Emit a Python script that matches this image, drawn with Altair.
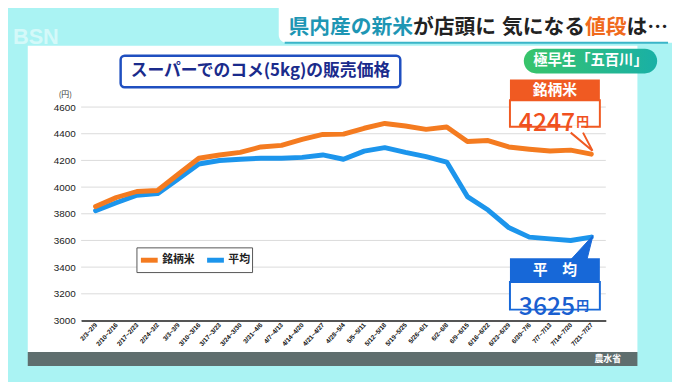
import altair as alt
import pandas as pd

# ---------------- data ----------------
weeks = ["2/3~2/9", "2/10~2/16", "2/17~2/23", "2/24~3/2", "3/3~3/9", "3/10~3/16",
         "3/17~3/23", "3/24~3/30", "3/31~4/6", "4/7~4/13", "4/14~4/20", "4/21~4/27",
         "4/28~5/4", "5/5~5/11", "5/12~5/18", "5/19~5/25", "5/26~6/1", "6/2~6/8",
         "6/9~6/15", "6/16~6/22", "6/23~6/29", "6/30~7/6", "7/7~7/13", "7/14~7/20",
         "7/21~7/27"]
brand_rice = [3854, 3922, 3967, 3975, 4096, 4216, 4241, 4260, 4301, 4313, 4357, 4395,
              4397, 4441, 4477, 4458, 4433, 4450, 4342, 4349, 4301, 4284, 4270, 4277, 4247]
average = [3823, 3883, 3939, 3951, 4060, 4173, 4199, 4209, 4216, 4216, 4223, 4241,
           4209, 4270, 4296, 4260, 4228, 4188, 3929, 3828, 3697, 3625, 3612, 3600, 3625]
series_names = ["銘柄米", "平均"]
y_ticks = [3000, 3200, 3400, 3600, 3800, 4000, 4200, 4400, 4600]

rows = []
for i, w in enumerate(weeks):
    rows.append({"week": w, "series": series_names[1], "price": average[i], "o": i})
for i, w in enumerate(weeks):
    rows.append({"week": w, "series": series_names[0], "price": brand_rice[i], "o": i})
df = pd.DataFrame(rows)
grid_df = pd.DataFrame({"price": y_ticks})

# ---------------- layout ----------------
W, H = 531, 216
OX, OY = 82, 106          # page position of plot origin
def px(x): return x - OX
def py(y): return y - OY

JP = "Noto Sans CJK JP"
LAT = "Liberation Sans"
ORANGE = "#f47b20"
BLUE = "#1c95ec"
one = pd.DataFrame({"k": [0]})

def rect(x1, y1, x2, y2, **kw):
    return alt.Chart(one).mark_rect(**kw).encode(
        x=alt.value(px(x1)), x2=alt.value(px(x2)),
        y=alt.value(py(y1)), y2=alt.value(py(y2)))

def text(s, x, y, **kw):
    return alt.Chart(one).mark_text(text=s, **kw).encode(
        x=alt.value(px(x)), y=alt.value(py(y)))

def shape(path, cx, cy, size, **kw):
    return alt.Chart(one).mark_point(shape=path, size=size, **kw).encode(
        x=alt.value(px(cx)), y=alt.value(py(cy)))

yscale = alt.Scale(domain=[3000, 4600], nice=False, zero=False)
yaxis = alt.Axis(title=None, values=y_ticks, format="d", labelFontSize=10,
                 labelColor="#222", labelFont=LAT, ticks=False, domain=False,
                 grid=False, labelPadding=6, zindex=1)

# background panels
panel = rect(28, 44, 645, 354, fill="white")
footer = rect(28, 354, 645, 368, fill="#5f6e6e")
footer_txt = text("農水省", 615, 361.5, font=JP, fontSize=9, color="white",
                  align="center", baseline="middle", fontWeight="bold")

banner = rect(282, -20, 700, 41, fill="white", cornerRadius=8)
banner_line = alt.Chart(one).mark_rule(color="#3ab5c8", strokeWidth=2).encode(
    x=alt.value(px(288)), x2=alt.value(px(676)), y=alt.value(py(41)))
logo = text("BSN", 13, 35, font=LAT, fontSize=22, fontWeight="bold", color="white",
            opacity=0.5, align="left")

hdr_kw = dict(font=JP, fontSize=21, fontWeight="bold", align="left", baseline="alphabetic")
h1 = text("県内産の新米", 292, 32, color="#1e96b4", **hdr_kw)
h2 = text("が店頭に", 418, 32, color="#222222", **hdr_kw)
h3 = text("気になる", 508, 32, color="#222222", **hdr_kw)
h4 = text("値段", 592, 32, color="#f06a1c", **hdr_kw)
h5 = text("は…", 634, 32, color="#222222", **hdr_kw)

title_box = rect(122, 54, 405, 86, fill="white", stroke="#1f4fc0", strokeWidth=2.5,
                 cornerRadius=4)
title_txt = text("スーパーでのコメ(5kg)の販売価格", 263.5, 70, font=JP, fontSize=17,
                 fontWeight="bold", color="#1a2b8c", align="center", baseline="middle")

pill = rect(530, 47, 665, 72, cornerRadius=12.5,
            fill=alt.LinearGradient(gradient="linear", x1=0, y1=0, x2=1, y2=0,
                                    stops=[alt.GradientStop(offset=0, color="#38c46a"),
                                           alt.GradientStop(offset=1, color="#19b0a6")]))
pill_txt = text("極早生「五百川」", 597.5, 59.5, font=JP, fontSize=14.5, fontWeight="bold",
                color="white", align="center", baseline="middle")

yen_unit = text("(円)", 66, 94, font=JP, fontSize=8, color="#333", align="center",
                baseline="middle")

# gridlines through the y scale
grid = alt.Chart(grid_df).mark_rule(color="#dadada", strokeWidth=1).encode(
    y=alt.Y("price:Q", scale=yscale, axis=yaxis),
    x=alt.value(0), x2=alt.value(W))

lines = alt.Chart(df).mark_line(strokeWidth=5, strokeCap="round", strokeJoin="round").encode(
    x=alt.X("week:N", sort=weeks, scale=alt.Scale(type="point", padding=0.7),
            axis=alt.Axis(title=None, labelAngle=-48, labelFontSize=6.5, labelColor="#111",
                          labelFontWeight="bold",
                          labelFont=LAT, ticks=False, domainColor="#555", domainWidth=2,
                          labelPadding=3, grid=False, zindex=1)),
    y=alt.Y("price:Q", scale=yscale, axis=yaxis),
    color=alt.Color("series:N", scale=alt.Scale(domain=series_names, range=[ORANGE, BLUE]),
                    legend=alt.Legend(title=None, orient="none", legendX=56, legendY=142,
                                      direction="horizontal", symbolType="stroke",
                                      symbolStrokeWidth=5, symbolSize=289,
                                      labelFontSize=11, labelFontWeight="bold",
                                      labelFont=JP, labelColor="#222",
                                      strokeColor="#555", fillColor="white",
                                      padding=2, columnPadding=2, labelOffset=2)),
    order=alt.Order("o:Q"),
)

# orange bubble
ob_head = rect(516, 78, 607, 99, fill="#f05a22")
ob_box = rect(516, 99, 607, 126, fill="white", stroke="#f05a22", strokeWidth=2)
ob_ptr = shape("M-1,-0.83L1,0.83L0.13,-0.83", 588.5, 141, 484, filled=True,
               fill="white", stroke="#f05a22", strokeWidth=2, opacity=1)
ob_seam = alt.Chart(one).mark_rule(color="white", strokeWidth=3).encode(
    x=alt.value(px(579)), x2=alt.value(px(588)), y=alt.value(py(126)))
ob_t1 = text("銘柄米", 561.5, 88.5, font=JP, fontSize=15, fontWeight="bold", color="white",
             align="center", baseline="middle")
ob_t2 = text("4247", 525, 122, font=JP, fontSize=25, fontWeight=500, color="#f0501e",
             align="left")
ob_t3 = text("円", 583, 121, font=JP, fontSize=13, fontWeight="bold", color="#f0501e",
             align="left")

# blue bubble
bb_ptr = shape("M0.917,-1L-0.917,1L0.417,1Z", 589, 248, 576, filled=True,
               fill="#1768d8", stroke="#1768d8", strokeWidth=1, opacity=1)
bb_head = rect(516, 259, 607, 283, fill="#1768d8")
bb_box = rect(516, 283, 607, 311, fill="white", stroke="#1768d8", strokeWidth=2)
bb_t1 = text("平　均", 561.5, 271, font=JP, fontSize=15, fontWeight="bold", color="white",
             align="center", baseline="middle")
bb_t2 = text("3625", 525, 308, font=JP, fontSize=25, fontWeight=500, color="#1a5fd0",
             align="left")
bb_t3 = text("円", 583, 307, font=JP, fontSize=13, fontWeight="bold", color="#1a5fd0",
             align="left")

chart = alt.layer(
    panel, footer, footer_txt, banner, banner_line, logo, h1, h2, h3, h4, h5,
    title_box, title_txt, pill, pill_txt, yen_unit,
    grid, lines,
    ob_ptr, ob_head, ob_box, ob_seam, ob_t1, ob_t2, ob_t3,
    bb_ptr, bb_head, bb_box, bb_t1, bb_t2, bb_t3,
).properties(
    width=W, height=H,
    autosize=alt.AutoSizeParams(type="none"),
    padding={"left": 74, "top": 98, "right": 67, "bottom": 60},
).configure(background="#aaf3f3").configure_view(stroke=None)

chart.save("out.html", embed_options={"renderer": "svg", "actions": False})
